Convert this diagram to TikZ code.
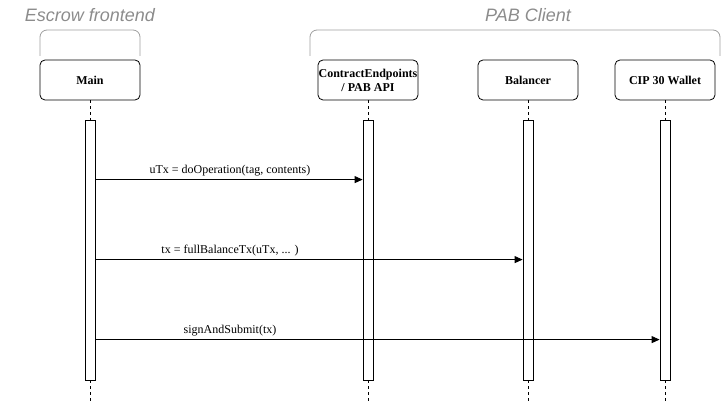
\documentclass[tikz,border=0pt]{standalone}
\usepackage{fontspec}
\setmainfont{Liberation Serif}
\newfontfamily\grpfont{Liberation Sans}
\usetikzlibrary{positioning,arrows.meta}

\begin{document}
\begin{tikzpicture}[x=1pt,y=-1pt,
 hd/.style={draw,line width=0.8pt,rounded corners=5pt,minimum width=100pt,minimum height=40pt,inner sep=0pt,align=center,font=\fontsize{12}{14}\selectfont\bfseries},
 bar/.style={draw,line width=0.8pt,fill=white,minimum width=10pt,minimum height=260pt,inner sep=0pt},
 life/.style={dashed,line width=0.8pt,dash pattern=on 3pt off 3pt},
 msg/.style={-{Triangle[length=8pt,width=7pt]},line width=0.8pt},
 lbl/.style={font=\fontsize{12}{14}\selectfont,inner sep=0pt},
 grp/.style={draw=gray!75,line width=0.8pt,rounded corners=7pt},
 grplbl/.style={text=gray!90,font=\grpfont\fontsize{18}{20}\selectfont\itshape}]
\useasboundingbox (0,0) rectangle (721,401);
% groups
\draw[grp] (40,56) -- (40,30) -- (140,30) -- (140,56);
\draw[grp] (310,56) -- (310,30) -- (720,30) -- (720,56);
\node[grplbl] (gfront) at (90,15) {Escrow frontend};
\node[grplbl] (gpab) at (528,15) {PAB Client};
% participants
\node[hd] (main) at (90,80) {Main};
\node[hd] (ce) at (368,80) {ContractEndpoints\\/ PAB API};
\node[hd] (bal) at (528,80) {Balancer};
\node[hd] (wal) at (665,80) {CIP 30 Wallet};
% lifelines and activations
\foreach \p in {main,ce,bal,wal} {
 \node[bar] (\p bar) at (\p |- 0,250) {};
 \coordinate (\p end) at (\p |- 0,401);
 \draw[life] (\p.south) -- (\p bar.north);
 \draw[life] (\p bar.south) -- (\p end);
}
% messages
\draw[msg] ([yshift=-60pt]mainbar.north east) -- ([yshift=-60pt]cebar.north west);
\draw[msg] ([yshift=-140pt]mainbar.north east) -- ([yshift=-140pt]balbar.north west);
\draw[msg] ([yshift=-220pt]mainbar.north east) -- ([yshift=-220pt]walbar.north west);
\node[lbl] (m1) at (230,171) {uTx = doOperation(tag, contents)};
\node[lbl] (m2) at (230,251) {tx = fullBalanceTx(uTx, ... )};
\node[lbl] (m3) at (230,331) {signAndSubmit(tx)};
\end{tikzpicture}
\end{document}
